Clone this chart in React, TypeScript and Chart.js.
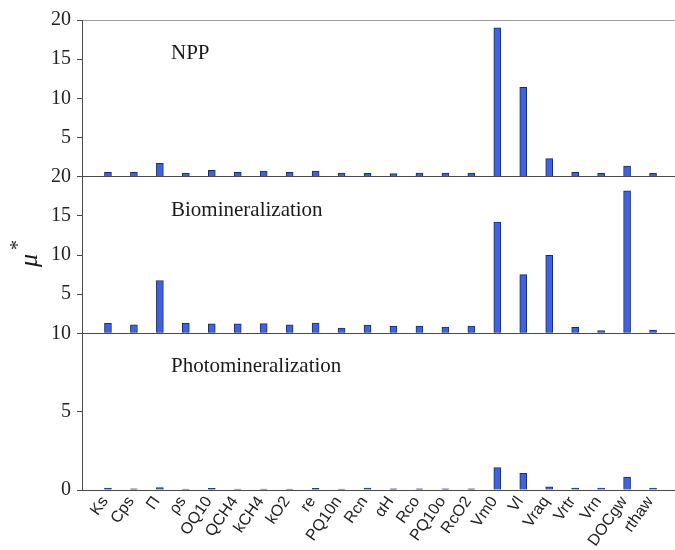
import { useEffect, useRef } from 'react';
import { Chart, registerables } from 'chart.js';

Chart.register(...registerables);

// Model parameters along the x axis
const params = [
  'Ks', 'Cps', 'Π', 'ρs', 'OQ10', 'QCH4', 'kCH4', 'kO2', 're', 'PQ10n', 'Rcn',
  'αH', 'Rco', 'PQ10o', 'RcO2', 'Vm0', 'Vl', 'Vraq', 'Vrtr', 'Vrn', 'DOCgw', 'rthaw',
];

// Sensitivity index μ* for each process
const nppValues = [
  0.55, 0.55, 1.7, 0.45, 0.8, 0.55, 0.72, 0.55, 0.72, 0.45, 0.42,
  0.38, 0.45, 0.45, 0.45, 19.0, 11.4, 2.3, 0.55, 0.42, 1.36, 0.42,
];
const bioValues = [
  1.27, 1.1, 6.75, 1.27, 1.2, 1.2, 1.24, 1.1, 1.32, 0.68, 1.06,
  0.94, 0.94, 0.81, 0.94, 14.2, 7.5, 9.97, 0.76, 0.34, 18.2, 0.42,
];
const photoValues = [
  0.12, 0.07, 0.15, 0.06, 0.1, 0.06, 0.06, 0.06, 0.1, 0.06, 0.13,
  0.08, 0.08, 0.08, 0.08, 1.43, 1.07, 0.21, 0.13, 0.13, 0.83, 0.13,
];

const panelTitles = ['NPP', 'Biomineralization', 'Photomineralization'];
const panelMax = [20, 20, 10];
const tickStep = 5;

const BAR_FILL = '#3e63dc';
const BAR_EDGE = '#1f2b66';
const AXIS_DARK = '#4a4a4a';
const TOP_LINE = '#9c9c9c';
const SERIF = "'Liberation Serif', 'Times New Roman', serif";
const SANS = "'Liberation Sans', Arial, sans-serif";

// blank slots at both ends leave one empty category of margin
const pad = (arr: (number | null)[]) => [null, ...arr, null];
const xLabels = ['', ...params, ''];

const panelIds = ['yNpp', 'yBio', 'yPhoto'];

function yScale(idx: number) {
  const max = panelMax[idx];
  const isTop = idx === 0;
  const isBottom = idx === panelIds.length - 1;
  return {
    type: 'linear' as const,
    position: 'left' as const,
    stack: 'mu',
    stackWeight: 1,
    min: 0,
    max,
    afterFit: (s: any) => {
      s.width = 82;
      s.paddingTop = 0;
      s.paddingBottom = 0;
    },
    border: { display: true, color: AXIS_DARK, width: 1 },
    grid: {
      drawTicks: true,
      tickLength: 5,
      tickColor: AXIS_DARK,
      lineWidth: 1,
      color: (c: any) => {
        const v = c.tick ? c.tick.value : null;
        if (v === 0 && !isBottom) return AXIS_DARK;
        if (v === max && isTop) return TOP_LINE;
        return 'rgba(0,0,0,0)';
      },
    },
    ticks: {
      stepSize: tickStep,
      autoSkip: false,
      padding: 6,
      color: '#222',
      font: { family: SERIF, size: 20 },
      callback: (v: any) => (v === 0 && !isBottom ? '' : String(v)),
    },
  };
}

const panelLabelPlugin = {
  id: 'panelLabels',
  afterDraw(chart: any) {
    const { ctx, chartArea } = chart;
    ctx.save();
    ctx.fillStyle = '#1a1a1a';
    ctx.font = `21px ${SERIF}`;
    ctx.textAlign = 'left';
    ctx.textBaseline = 'alphabetic';
    panelIds.forEach((id, i) => {
      const s = chart.scales[id];
      ctx.fillText(panelTitles[i], chartArea.left + 89, s.top + 39);
    });

    // y axis title μ*, rotated
    const mid = chart.scales.yBio;
    const cy = (mid.top + mid.bottom) / 2 + 12;
    ctx.translate(37, cy);
    ctx.rotate(-Math.PI / 2);
    ctx.font = `italic 26px ${SERIF}`;
    ctx.fillText('μ', 0, 0);
    ctx.font = `20px ${SERIF}`;
    ctx.textAlign = 'center';
    ctx.fillText('*', 22, -13);
    ctx.restore();
  },
};

export default function App() {
  const canvasRef = useRef<HTMLCanvasElement | null>(null);

  useEffect(() => {
    if (!canvasRef.current) return;
    const barStyle = {
      backgroundColor: BAR_FILL,
      borderColor: BAR_EDGE,
      borderWidth: 1,
      barThickness: 7,
      grouped: false,
    };
    const chart = new Chart(canvasRef.current, {
      type: 'bar',
      data: {
        labels: xLabels,
        datasets: [
          { label: panelTitles[0], data: pad(nppValues), yAxisID: 'yNpp', ...barStyle },
          { label: panelTitles[1], data: pad(bioValues), yAxisID: 'yBio', ...barStyle },
          { label: panelTitles[2], data: pad(photoValues), yAxisID: 'yPhoto', ...barStyle },
        ],
      },
      options: {
        responsive: false,
        animation: false,
        layout: { padding: { top: 20, right: 0, bottom: 0, left: 0 } },
        plugins: {
          legend: { display: false },
          tooltip: { enabled: false },
        },
        scales: {
          x: {
            type: 'category',
            offset: false,
            afterFit: (s: any) => {
              s.height = 60;
              s.paddingLeft = 0;
              s.paddingRight = 0;
            },
            border: { display: true, color: AXIS_DARK, width: 1 },
            grid: { display: false, drawTicks: false },
            ticks: {
              autoSkip: false,
              minRotation: 55,
              maxRotation: 55,
              padding: 3,
              labelOffset: -3,
              color: '#222',
              font: { family: SANS, size: 16 },
            },
          },
          yPhoto: yScale(2),
          yBio: yScale(1),
          yNpp: yScale(0),
        } as any,
      },
      plugins: [panelLabelPlugin],
    });
    return () => chart.destroy();
  }, []);

  return (
    <div style={{ position: 'absolute', left: 0, top: 0, width: 675, height: 550, overflow: 'hidden', background: '#fff' }}>
      <canvas ref={canvasRef} width={679} height={550} />
    </div>
  );
}
